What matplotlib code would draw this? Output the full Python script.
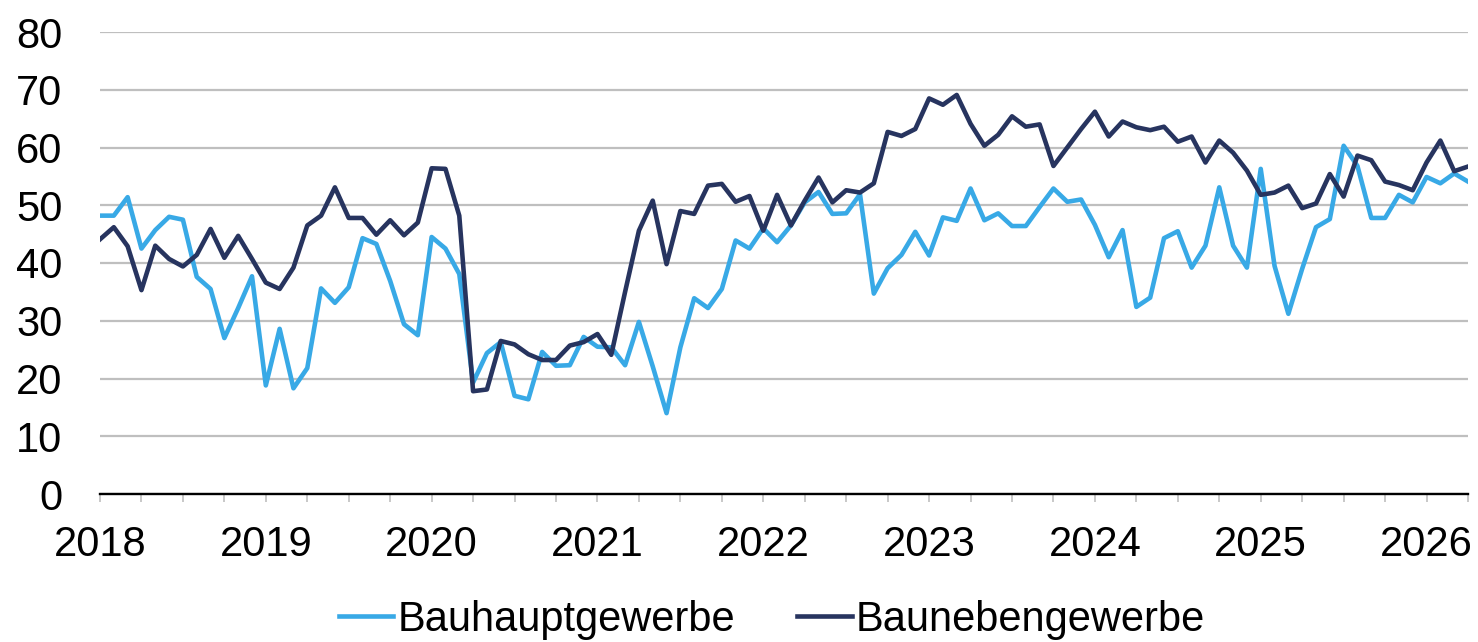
import matplotlib
matplotlib.use('Agg')
import matplotlib.pyplot as plt
import numpy as np

plt.rcParams['font.family'] = ['Liberation Sans', 'DejaVu Sans']

# monthly values, Jan 2018 .. Apr 2026
bauhaupt = [48.2, 48.2, 51.4, 42.5, 45.7, 48.0, 47.5, 37.6, 35.5, 27.0,
            32.2, 37.7, 18.8, 28.6, 18.3, 21.8, 35.6, 33.1, 35.8, 44.3,
            43.3, 36.9, 29.4, 27.5, 44.5, 42.5, 38.1, 19.3, 24.4, 26.3,
            17.0, 16.4, 24.6, 22.2, 22.3, 27.2, 25.5, 25.4, 22.3, 29.8,
            22.1, 14.0, 25.4, 33.9, 32.2, 35.5, 43.9, 42.5, 46.0, 43.6,
            46.5, 50.5, 52.3, 48.5, 48.6, 51.9, 34.7, 39.1, 41.4, 45.4,
            41.3, 47.9, 47.3, 52.9, 47.4, 48.6, 46.4, 46.4, 49.7, 52.9,
            50.6, 51.0, 46.6, 41.0, 45.7, 32.4, 34.0, 44.3, 45.5, 39.2,
            43.0, 53.1, 43.0, 39.2, 56.3, 39.5, 31.2, 39.0, 46.2, 47.6,
            60.3, 56.8, 47.8, 47.8, 51.8, 50.5, 54.9, 53.8, 55.5, 54.1]

bauneben = [44.1, 46.2, 42.9, 35.3, 43.0, 40.7, 39.4, 41.4, 45.9, 40.9,
            44.7, 40.7, 36.6, 35.5, 39.2, 46.5, 48.2, 53.1, 47.8, 47.8,
            44.9, 47.4, 44.8, 47.0, 56.4, 56.3, 48.2, 17.8, 18.1, 26.5,
            25.9, 24.2, 23.2, 23.2, 25.7, 26.3, 27.7, 24.1, 35.0, 45.6,
            50.8, 39.8, 49.0, 48.5, 53.4, 53.7, 50.6, 51.6, 45.6, 51.8,
            46.5, 50.8, 54.8, 50.5, 52.6, 52.2, 53.8, 62.7, 62.0, 63.2,
            68.5, 67.4, 69.1, 64.1, 60.3, 62.2, 65.4, 63.6, 64.0, 56.8,
            60.0, 63.2, 66.2, 61.9, 64.5, 63.5, 63.0, 63.6, 61.0, 61.9,
            57.4, 61.2, 59.1, 56.0, 51.8, 52.2, 53.4, 49.5, 50.3, 55.4,
            51.5, 58.6, 57.8, 54.1, 53.5, 52.6, 57.4, 61.2, 55.9, 56.7]

years = ['2018', '2019', '2020', '2021', '2022', '2023', '2024', '2025', '2026']

months = np.arange(len(bauhaupt))

fig = plt.figure(figsize=(14.78, 6.42), dpi=100)
ax = fig.add_axes([100 / 1478, 148 / 642, 1368 / 1478, 462 / 642])

ax.plot(months, bauhaupt, color='#38A9E6', linewidth=3.3, label='Bauhauptgewerbe')
ax.plot(months, bauneben, color='#27345F', linewidth=3.3, label='Baunebengewerbe')

ax.set_xlim(0, len(months) - 1)
ax.set_ylim(0, 80)
ax.set_yticks(range(0, 81, 10))
ax.yaxis.grid(True, color='#BFBFBF', linewidth=1.6)
ax.set_axisbelow(True)

ax.set_xticks(np.arange(0, len(months), 3))
ax.set_xticklabels([years[i // 12] if i % 12 == 0 else '' for i in range(0, len(months), 3)])
ax.tick_params(axis='x', length=6, width=1.2, color='#BFBFBF', labelsize=30, pad=16)
ax.tick_params(axis='y', length=0, labelsize=30, pad=27)

for s in ['top', 'right', 'left']:
    ax.spines[s].set_visible(False)
ax.spines['bottom'].set_linewidth(1.7)
ax.spines['bottom'].set_color('black')

fig.legend(loc='center', bbox_to_anchor=(772 / 1478, 22 / 642), ncol=2,
           frameon=False, fontsize=30, handlelength=1.3, handletextpad=0.1,
           columnspacing=1.5, borderpad=0)

plt.savefig('out.png', dpi=100)
